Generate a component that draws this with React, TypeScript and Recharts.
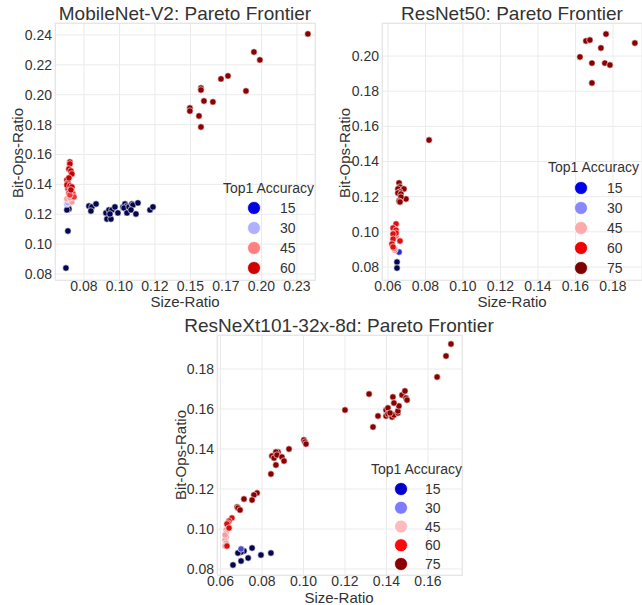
import React from 'react';
import { ScatterChart, Scatter, XAxis, YAxis, CartesianGrid } from 'recharts';

type P = { x: number; y: number };

// ---------- MobileNet-V2 ----------
const mnXTicks = [0.075, 0.1, 0.125, 0.15, 0.175, 0.2, 0.225];
const mnXTickLabels = ['0.08', '0.10', '0.12', '0.15', '0.17', '0.20', '0.23'];
const mnYTicks = [0.08, 0.1, 0.12, 0.14, 0.16, 0.18, 0.2, 0.22, 0.24];
const mnNavy: P[] = [
  { x: 0.0785, y: 0.1255 }, { x: 0.0806, y: 0.1249 }, { x: 0.0835, y: 0.1269 }, { x: 0.0799, y: 0.1222 },
  { x: 0.0905, y: 0.1209 }, { x: 0.0926, y: 0.1229 }, { x: 0.0947, y: 0.1229 }, { x: 0.0912, y: 0.1168 },
  { x: 0.094, y: 0.1168 }, { x: 0.0933, y: 0.1202 }, { x: 0.0968, y: 0.1249 }, { x: 0.0989, y: 0.1209 },
  { x: 0.1025, y: 0.1249 }, { x: 0.1039, y: 0.1269 }, { x: 0.1053, y: 0.1255 }, { x: 0.1032, y: 0.1242 },
  { x: 0.1067, y: 0.1249 }, { x: 0.1088, y: 0.1269 }, { x: 0.1095, y: 0.1262 }, { x: 0.1053, y: 0.1209 },
  { x: 0.1081, y: 0.1229 }, { x: 0.1116, y: 0.1202 }, { x: 0.113, y: 0.1276 }, { x: 0.1215, y: 0.1229 },
  { x: 0.1236, y: 0.1249 }, { x: 0.0637, y: 0.1249 }, { x: 0.0644, y: 0.1235 }, { x: 0.063, y: 0.1229 },
  { x: 0.0637, y: 0.1088 }, { x: 0.0623, y: 0.084 },
];
const mnLightBlue: P[] = [{ x: 0.063, y: 0.1282 }, { x: 0.063, y: 0.1269 }, { x: 0.0637, y: 0.1276 }];
const mnPink: P[] = [
  { x: 0.0658, y: 0.1316 }, { x: 0.0644, y: 0.1296 }, { x: 0.0665, y: 0.1282 }, { x: 0.063, y: 0.1303 },
  { x: 0.0651, y: 0.1309 },
];
const mnMidRed: P[] = [
  { x: 0.0637, y: 0.137 }, { x: 0.0665, y: 0.1349 }, { x: 0.0644, y: 0.1342 }, { x: 0.0673, y: 0.1336 },
  { x: 0.068, y: 0.1316 }, { x: 0.0651, y: 0.1329 },
];
const mnRed: P[] = [
  { x: 0.0651, y: 0.155 }, { x: 0.0651, y: 0.1537 }, { x: 0.0644, y: 0.1503 }, { x: 0.0658, y: 0.149 },
  { x: 0.0665, y: 0.147 }, { x: 0.063, y: 0.143 }, { x: 0.0637, y: 0.141 }, { x: 0.063, y: 0.1396 },
  { x: 0.0651, y: 0.139 }, { x: 0.0665, y: 0.1383 }, { x: 0.0644, y: 0.1443 }, { x: 0.0658, y: 0.1363 },
];
const mnDarkRed: P[] = [
  { x: 0.2327, y: 0.2407 }, { x: 0.1947, y: 0.2286 }, { x: 0.1989, y: 0.2233 }, { x: 0.1715, y: 0.2106 },
  { x: 0.1764, y: 0.2126 }, { x: 0.1891, y: 0.2025 }, { x: 0.1574, y: 0.2045 }, { x: 0.1574, y: 0.2032 },
  { x: 0.1595, y: 0.1958 }, { x: 0.1658, y: 0.1952 }, { x: 0.1496, y: 0.1911 }, { x: 0.1496, y: 0.1891 },
  { x: 0.156, y: 0.1858 }, { x: 0.1574, y: 0.1784 },
];
const mnLegendLabels = ['15', '30', '45', '60'];
const mnLegendColors = ['#0000e0', '#b0b0ff', '#ff8080', '#d00000'];

// ---------- ResNet50 ----------
const rnXTicks = [0.06, 0.08, 0.1, 0.12, 0.14, 0.16, 0.18];
const rnYTicks = [0.08, 0.1, 0.12, 0.14, 0.16, 0.18, 0.2];
const rnNavy: P[] = [{ x: 0.0648, y: 0.0828 }, { x: 0.0648, y: 0.0794 }];
const rnBlue: P[] = [{ x: 0.0659, y: 0.0885 }];
const rnPink: P[] = [{ x: 0.0637, y: 0.0897 }, { x: 0.0643, y: 0.0976 }, { x: 0.0632, y: 0.0905 }];
const rnRed: P[] = [
  { x: 0.0643, y: 0.1045 }, { x: 0.0632, y: 0.1016 }, { x: 0.0627, y: 0.1022 }, { x: 0.0643, y: 0.101 },
  { x: 0.0643, y: 0.0993 }, { x: 0.0627, y: 0.0988 }, { x: 0.0627, y: 0.0959 }, { x: 0.0664, y: 0.0948 },
  { x: 0.0621, y: 0.0931 }, { x: 0.0627, y: 0.0914 },
];
const rnDarkRed: P[] = [
  { x: 0.0659, y: 0.1278 }, { x: 0.0664, y: 0.1255 }, { x: 0.0653, y: 0.1244 }, { x: 0.0685, y: 0.1244 },
  { x: 0.0664, y: 0.1227 }, { x: 0.0653, y: 0.1221 }, { x: 0.0669, y: 0.1215 }, { x: 0.0696, y: 0.1187 },
  { x: 0.0669, y: 0.1198 }, { x: 0.0659, y: 0.1175 }, { x: 0.0664, y: 0.117 }, { x: 0.0819, y: 0.1522 },
  { x: 0.1763, y: 0.2125 }, { x: 0.1656, y: 0.2086 }, { x: 0.1677, y: 0.2091 }, { x: 0.1736, y: 0.2046 },
  { x: 0.1917, y: 0.2074 }, { x: 0.1624, y: 0.1995 }, { x: 0.1688, y: 0.196 }, { x: 0.1757, y: 0.196 },
  { x: 0.1784, y: 0.1949 }, { x: 0.1688, y: 0.1847 },
];
const rnLegendLabels = ['15', '30', '45', '60', '75'];
const rnLegendColors = ['#0000e6', '#8888ff', '#ffaaaa', '#f00000', '#800000'];

// ---------- ResNeXt101-32x-8d ----------
const rxXTicks = [0.06, 0.08, 0.1, 0.12, 0.14, 0.16];
const rxYTicks = [0.08, 0.1, 0.12, 0.14, 0.16, 0.18];
const rxNavy: P[] = [
  { x: 0.0752, y: 0.0905 }, { x: 0.0713, y: 0.089 }, { x: 0.0699, y: 0.0885 }, { x: 0.0684, y: 0.088 },
  { x: 0.0699, y: 0.084 }, { x: 0.0733, y: 0.0855 }, { x: 0.0795, y: 0.087 }, { x: 0.0843, y: 0.088 },
  { x: 0.066, y: 0.082 },
];
const rxBlue: P[] = [{ x: 0.0699, y: 0.09 }];
const rxPink: P[] = [
  { x: 0.0627, y: 0.0995 }, { x: 0.0627, y: 0.098 }, { x: 0.0627, y: 0.096 }, { x: 0.0622, y: 0.0945 },
  { x: 0.0627, y: 0.093 }, { x: 0.0622, y: 0.0915 }, { x: 0.0622, y: 0.097 },
];
const rxRed: P[] = [
  { x: 0.0655, y: 0.1055 }, { x: 0.0641, y: 0.104 }, { x: 0.0636, y: 0.103 }, { x: 0.0631, y: 0.1025 },
  { x: 0.0641, y: 0.1005 }, { x: 0.0631, y: 0.0915 },
];
const rxDarkRed: P[] = [
  { x: 0.1711, y: 0.1925 }, { x: 0.1687, y: 0.1865 }, { x: 0.1644, y: 0.176 }, { x: 0.1316, y: 0.1675 },
  { x: 0.12, y: 0.1595 }, { x: 0.1335, y: 0.151 }, { x: 0.1359, y: 0.1565 },
  { x: 0.1398, y: 0.1595 }, { x: 0.1407, y: 0.1605 }, { x: 0.1398, y: 0.1565 }, { x: 0.1407, y: 0.1575 },
  { x: 0.1422, y: 0.1575 }, { x: 0.1427, y: 0.156 }, { x: 0.1436, y: 0.157 }, { x: 0.1417, y: 0.158 },
  { x: 0.1455, y: 0.158 }, { x: 0.1455, y: 0.159 }, { x: 0.146, y: 0.1615 }, { x: 0.1431, y: 0.166 },
  { x: 0.1436, y: 0.163 }, { x: 0.1475, y: 0.167 }, { x: 0.1489, y: 0.169 }, { x: 0.1494, y: 0.1655 },
  { x: 0.1499, y: 0.1645 },
  { x: 0.1002, y: 0.1445 }, { x: 0.1007, y: 0.1435 }, { x: 0.1012, y: 0.1425 }, { x: 0.093, y: 0.14 },
  { x: 0.0877, y: 0.1385 }, { x: 0.0867, y: 0.1385 }, { x: 0.0848, y: 0.1365 }, { x: 0.0858, y: 0.1355 },
  { x: 0.0872, y: 0.137 }, { x: 0.0896, y: 0.136 }, { x: 0.0906, y: 0.134 }, { x: 0.0867, y: 0.132 },
  { x: 0.0843, y: 0.1275 },
  { x: 0.0776, y: 0.118 }, { x: 0.0761, y: 0.117 }, { x: 0.0752, y: 0.1145 }, { x: 0.0713, y: 0.115 },
  { x: 0.068, y: 0.111 }, { x: 0.0684, y: 0.1105 }, { x: 0.0694, y: 0.1095 },
];
const rxLegendLabels = ['15', '30', '45', '60', '75'];
const rxLegendColors = ['#0000cc', '#7c7cff', '#ffbbbb', '#ff0a0a', '#8b0000'];

const FONT = '"Liberation Sans", Arial, sans-serif';
const TXT = '#333333';

type Series = { data: P[]; color: string };

const makeDot = (color: string) => (props: any) => (
  <circle cx={props.cx} cy={props.cy} r={3.2} fill={color} stroke="#ffffff" strokeWidth={0.6} />
);

function Panel(props: {
  left: number; top: number; width: number; height: number;
  margin: { top: number; right: number; bottom: number; left: number };
  yAxisWidth: number; xTickMargin: number;
  xDomain: [number, number]; xTicks: number[]; xFmt: (v: number) => string;
  yDomain: [number, number]; yTicks: number[];
  series: Series[];
}) {
  const { left, top, width, height, margin, yAxisWidth, xTickMargin, xDomain, xTicks, xFmt, yDomain, yTicks, series } = props;
  return (
    <div style={{ position: 'absolute', left, top }}>
      <ScatterChart width={width} height={height} margin={margin}>
        <CartesianGrid stroke="#ebebeb" />
        <XAxis
          type="number" dataKey="x" domain={xDomain} ticks={xTicks} tickFormatter={xFmt}
          allowDataOverflow interval={0} height={30} tickLine={false} axisLine={false}
          tickSize={0} tickMargin={xTickMargin} tick={{ fontSize: 14, fill: TXT }}
        />
        <YAxis
          type="number" dataKey="y" domain={yDomain} ticks={yTicks}
          tickFormatter={(v: number) => v.toFixed(2)}
          allowDataOverflow interval={0} width={yAxisWidth} tickLine={false} axisLine={false}
          tickSize={0} tickMargin={3} tick={{ fontSize: 14, fill: TXT }}
        />
        {series.map((s, i) => (
          <Scatter key={i} data={s.data} fill={s.color} shape={makeDot(s.color)} isAnimationActive={false} />
        ))}
      </ScatterChart>
    </div>
  );
}

function LegendBlock(props: { titleX: number; titleY: number; circleX: number; labelX: number; y0: number; step: number; labels: string[]; colors: string[] }) {
  const { titleX, titleY, circleX, labelX, y0, step, labels, colors } = props;
  return (
    <g>
      <text x={titleX} y={titleY} fontSize={14} fill={TXT} dominantBaseline="central">Top1 Accuracy</text>
      {labels.map((l, i) => (
        <g key={l}>
          <circle cx={circleX} cy={y0 + i * step} r={6.5} fill={colors[i]} stroke="#ffffff" strokeWidth={0.8} />
          <text x={labelX} y={y0 + i * step} fontSize={14} fill={TXT} dominantBaseline="central">{l}</text>
        </g>
      ))}
    </g>
  );
}

export default function App() {
  const mnFmt = (v: number) => {
    const i = mnXTicks.findIndex((t) => Math.abs(t - v) < 1e-9);
    return i >= 0 ? mnXTickLabels[i] : v.toFixed(2);
  };
  const fmt2 = (v: number) => v.toFixed(2);
  return (
    <div style={{ position: 'absolute', left: 0, top: 0, width: 642, height: 605, background: '#ffffff', fontFamily: FONT, overflow: 'hidden' }}>
      <Panel
        left={0} top={0} width={320} height={312} xTickMargin={1}
        margin={{ top: 23, right: 5, bottom: 2, left: 0 }} yAxisWidth={55}
        xDomain={[0.0546, 0.2377]} xTicks={mnXTicks} xFmt={mnFmt}
        yDomain={[0.076, 0.248]} yTicks={mnYTicks}
        series={[
          { data: mnNavy, color: '#06064f' },
          { data: mnLightBlue, color: '#a9acf2' },
          { data: mnPink, color: '#f7a0a0' },
          { data: mnMidRed, color: '#e43a3a' },
          { data: mnRed, color: '#c40000' },
          { data: mnDarkRed, color: '#8b0000' },
        ]}
      />
      <Panel
        left={320} top={0} width={322} height={312} xTickMargin={1}
        margin={{ top: 23, right: 0, bottom: 2, left: 0 }} yAxisWidth={62}
        xDomain={[0.0568, 0.1955]} xTicks={rnXTicks} xFmt={fmt2}
        yDomain={[0.0726, 0.2188]} yTicks={rnYTicks}
        series={[
          { data: rnNavy, color: '#06064f' },
          { data: rnBlue, color: '#2a2ad0' },
          { data: rnPink, color: '#f07070' },
          { data: rnRed, color: '#dd1010' },
          { data: rnDarkRed, color: '#8b0000' },
        ]}
      />
      <Panel
        left={160} top={310} width={320} height={295} xTickMargin={1}
        margin={{ top: 25, right: 18, bottom: 0, left: 0 }} yAxisWidth={57}
        xDomain={[0.0583, 0.1764]} xTicks={rxXTicks} xFmt={fmt2}
        yDomain={[0.077, 0.197]} yTicks={rxYTicks}
        series={[
          { data: rxNavy, color: '#06064f' },
          { data: rxBlue, color: '#4a4ac8' },
          { data: rxPink, color: '#f0a0a0' },
          { data: rxRed, color: '#d01010' },
          { data: rxDarkRed, color: '#8b0000' },
        ]}
      />
      <svg width={642} height={605} style={{ position: 'absolute', left: 0, top: 0, pointerEvents: 'none', fontFamily: FONT }}>
        <rect x={55.5} y={23.5} width={260} height={257} fill="none" stroke="#e6e6e6" />
        <rect x={382.5} y={23.5} width={262} height={257} fill="none" stroke="#e6e6e6" />
        <rect x={217.5} y={335.5} width={245} height={240} fill="none" stroke="#e6e6e6" />

        <text x={185} y={13} fontSize={19} fill={TXT} textAnchor="middle" dominantBaseline="central">MobileNet-V2: Pareto Frontier</text>
        <text x={512} y={13} fontSize={19} fill={TXT} textAnchor="middle" dominantBaseline="central">ResNet50: Pareto Frontier</text>
        <text x={339} y={325} fontSize={19} fill={TXT} textAnchor="middle" dominantBaseline="central">ResNeXt101-32x-8d: Pareto Frontier</text>

        <text x={185} y={301} fontSize={15} fill={TXT} textAnchor="middle" dominantBaseline="central">Size-Ratio</text>
        <text x={512} y={301} fontSize={15} fill={TXT} textAnchor="middle" dominantBaseline="central">Size-Ratio</text>
        <text x={339} y={597} fontSize={15} fill={TXT} textAnchor="middle" dominantBaseline="central">Size-Ratio</text>

        <text x={17} y={153} fontSize={15} fill={TXT} textAnchor="middle" dominantBaseline="central" transform="rotate(-90 17 153)">Bit-Ops-Ratio</text>
        <text x={344} y={153} fontSize={15} fill={TXT} textAnchor="middle" dominantBaseline="central" transform="rotate(-90 344 153)">Bit-Ops-Ratio</text>
        <text x={180} y={455} fontSize={15} fill={TXT} textAnchor="middle" dominantBaseline="central" transform="rotate(-90 180 455)">Bit-Ops-Ratio</text>

        <LegendBlock titleX={223} titleY={188} circleX={254} labelX={280} y0={208} step={20} labels={mnLegendLabels} colors={mnLegendColors} />
        <LegendBlock titleX={548} titleY={167} circleX={581} labelX={607} y0={188} step={20} labels={rnLegendLabels} colors={rnLegendColors} />
        <LegendBlock titleX={371} titleY={469} circleX={401} labelX={425} y0={489} step={18.75} labels={rxLegendLabels} colors={rxLegendColors} />
      </svg>
    </div>
  );
}
